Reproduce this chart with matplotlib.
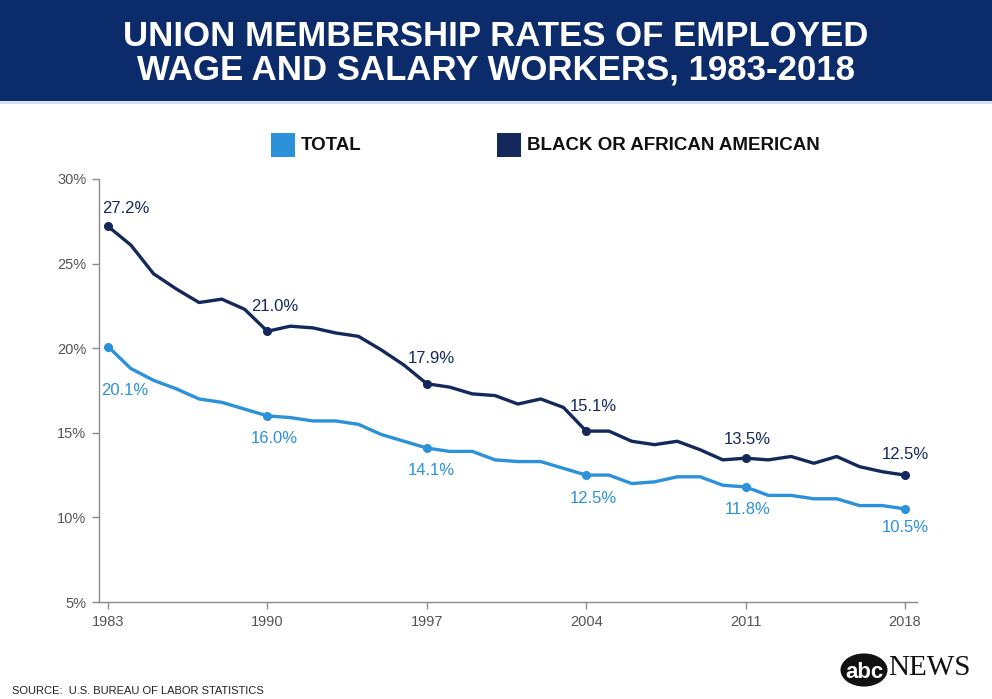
import matplotlib
matplotlib.use("Agg")
import matplotlib.pyplot as plt
from matplotlib.patches import Rectangle, Circle

# --- data (percent of employed wage and salary workers) ---
years = list(range(1983, 2019))
total = [20.1, 18.8, 18.1, 17.6, 17.0, 16.8, 16.4, 16.0, 15.9, 15.7,
         15.7, 15.5, 14.9, 14.5, 14.1, 13.9, 13.9, 13.4, 13.3, 13.3,
         12.9, 12.5, 12.5, 12.0, 12.1, 12.4, 12.4, 11.9, 11.8, 11.3,
         11.3, 11.1, 11.1, 10.7, 10.7, 10.5]
black = [27.2, 26.1, 24.4, 23.5, 22.7, 22.9, 22.3, 21.0, 21.3, 21.2,
         20.9, 20.7, 19.9, 19.0, 17.9, 17.7, 17.3, 17.2, 16.7, 17.0,
         16.5, 15.1, 15.1, 14.5, 14.3, 14.5, 14.0, 13.4, 13.5, 13.4,
         13.6, 13.2, 13.6, 13.0, 12.7, 12.5]
label_years = [1983, 1990, 1997, 2004, 2011, 2018]
y_ticks = [5, 10, 15, 20, 25, 30]
legend_labels = ["TOTAL", "BLACK OR AFRICAN AMERICAN"]
title_lines = ["UNION MEMBERSHIP RATES OF EMPLOYED",
               "WAGE AND SALARY WORKERS, 1983-2018"]
source = "SOURCE:  U.S. BUREAU OF LABOR STATISTICS"

# --- styling ---
BAND = "#0c2b6b"
NAVY = "#13295b"
LIGHT = "#2b91d9"
GREY = "#555555"
SPINE = "#8a8a8a"
SANS = ["Liberation Sans", "DejaVu Sans"]

# label offsets in points (black above, total below)
black_off = [(13, 13), (5, 17.5), (3, 18), (5, 18), (1, 13.5), (0, 15)]
total_off = [(12, -31.5), (5, -16.5), (3, -16.5), (5, -16.5), (1.5, -16.5), (0, -13.5)]

W, H = 992, 699
fig = plt.figure(figsize=(W / 100, H / 100), dpi=100)
fig.patch.set_facecolor("white")

# header band
fig.patches.append(Rectangle((0, 1 - 101 / H), 1, 101 / H, transform=fig.transFigure,
                             facecolor=BAND, edgecolor="none", zorder=0))
fig.patches.append(Rectangle((0, 1 - 104 / H), 1, 3 / H, transform=fig.transFigure,
                             facecolor="#d9e1ec", edgecolor="none", zorder=0))
fig.text(0.5, 1 - 36 / H, title_lines[0], color="white", fontsize=25,
         fontweight="bold", family=SANS, ha="center", va="center")
fig.text(0.5, 1 - 70 / H, title_lines[1], color="white", fontsize=25,
         fontweight="bold", family=SANS, ha="center", va="center")

# legend
for x0, col, lab in [(271, LIGHT, legend_labels[0]), (497, NAVY, legend_labels[1])]:
    fig.patches.append(Rectangle((x0 / W, 1 - 157 / H), 24 / W, 24 / H,
                                 transform=fig.transFigure, facecolor=col,
                                 edgecolor="none"))
    fig.text((x0 + 30) / W, 1 - 145 / H, lab, color="#111111", fontsize=13.5,
             fontweight="bold", family=SANS, ha="left", va="center")

# axes
ax = fig.add_axes([99 / W, 1 - 602 / H, 818 / W, 423 / H])
ax.plot(years, total, color=LIGHT, lw=2.4, solid_joinstyle="round", zorder=3)
ax.plot(years, black, color=NAVY, lw=2.4, solid_joinstyle="round", zorder=3)

for i, yr in enumerate(label_years):
    k = years.index(yr)
    ax.plot(yr, black[k], "o", color=NAVY, ms=5.5, zorder=4)
    ax.plot(yr, total[k], "o", color=LIGHT, ms=5.5, zorder=4)
    ax.annotate(f"{black[k]:.1f}%", (yr, black[k]), xytext=black_off[i],
                textcoords="offset points", ha="center", va="center",
                color=NAVY, fontsize=12, family=SANS)
    ax.annotate(f"{total[k]:.1f}%", (yr, total[k]), xytext=total_off[i],
                textcoords="offset points", ha="center", va="center",
                color=LIGHT, fontsize=12, family=SANS)

ax.set_xlim(1983 - 9 / 22.77, 2018 + 12 / 22.77)
ax.set_ylim(5, 30)
ax.set_xticks(label_years)
ax.set_xticklabels([str(y) for y in label_years])
ax.set_yticks(y_ticks)
ax.set_yticklabels([f"{v}%" for v in y_ticks])
for s in ["top", "right"]:
    ax.spines[s].set_visible(False)
for s in ["left", "bottom"]:
    ax.spines[s].set_color(SPINE)
    ax.spines[s].set_linewidth(1.0)
ax.tick_params(colors=SPINE, length=5, width=1.0, labelcolor=GREY, labelsize=10.5,
               pad=4)
for t in ax.get_xticklabels() + ax.get_yticklabels():
    t.set_family(SANS)

# footer
fig.text(12 / W, 1 - 691 / H, source, color="#222222", fontsize=8,
         family=SANS, ha="left", va="center")
fig.patches.append(Circle((864 / W, 1 - 670 / H), 23.5 / W, transform=fig.transFigure,
                          facecolor="#111111", edgecolor="none"))
fig.text(864 / W, 1 - 672 / H, "abc", color="white", fontsize=16,
         fontweight="bold", family=SANS, ha="center", va="center")
fig.text(888 / W, 1 - 668 / H, "NEWS", color="#111111", fontsize=21,
         family=["Liberation Serif", "DejaVu Serif"], ha="left", va="center")

fig.savefig("out.png", dpi=100, facecolor="white")
